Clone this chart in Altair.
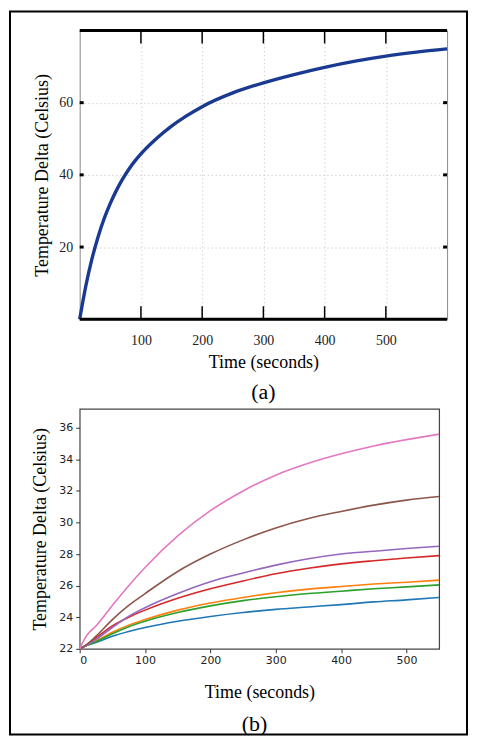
import altair as alt
import pandas as pd

# ---------------- Panel (a) data ----------------
time_a = [0, 10, 20, 30, 40, 50, 60, 70, 80, 90, 100, 125, 150, 175, 200, 250, 300, 350, 400, 450, 500, 550, 600]
delta_a = [0, 9.2, 16.7, 22.8, 27.9, 32.1, 35.7, 38.8, 41.5, 43.8, 45.8, 50.0, 53.5, 56.4, 58.9, 62.7,
           65.5, 67.8, 69.8, 71.5, 72.9, 74.0, 74.9]
xticks_a = [100, 200, 300, 400, 500]
yticks_a = [20, 40, 60]

# ---------------- Panel (b) data ----------------
time_b = [0, 10, 25, 50, 75, 100, 150, 200, 250, 300, 350, 400, 450, 500, 550]
series_names = ["s1", "s2", "s3", "s4", "s5", "s6", "s7"]
series_colors = ["#1f77b4", "#ff7f0e", "#2ca02c", "#d62728", "#9467bd", "#8c564b", "#e377c2"]
blue_b = [22, 22.2, 22.4, 22.8, 23.1, 23.35, 23.75, 24.05, 24.3, 24.5, 24.65, 24.8, 24.97, 25.1, 25.25]
orange_b = [22, 22.2, 22.5, 23.05, 23.5, 23.85, 24.45, 24.9, 25.25, 25.55, 25.78, 25.95, 26.1, 26.22, 26.35]
green_b = [22, 22.2, 22.45, 22.95, 23.4, 23.75, 24.3, 24.72, 25.05, 25.3, 25.5, 25.65, 25.8, 25.92, 26.05]
red_b = [22, 22.25, 22.7, 23.45, 24.0, 24.45, 25.2, 25.8, 26.3, 26.75, 27.1, 27.38, 27.58, 27.75, 27.9]
purple_b = [22, 22.2, 22.6, 23.35, 24.05, 24.6, 25.5, 26.25, 26.8, 27.3, 27.7, 28.0, 28.18, 28.35, 28.5]
brown_b = [22, 22.25, 22.8, 23.85, 24.75, 25.5, 26.9, 28.0, 28.9, 29.65, 30.25, 30.7, 31.1, 31.42, 31.65]
pink_b = [22, 22.8, 23.45, 24.75, 26.0, 27.15, 29.15, 30.75, 32.0, 33.0, 33.75, 34.35, 34.85, 35.25, 35.6]
xticks_b = [0, 100, 200, 300, 400, 500]
yticks_b = [22, 24, 26, 28, 30, 32, 34, 36]

SERIF = "Liberation Serif"
SANS = "DejaVu Sans"

# ---------------- Panel (a) ----------------
WA, HA = 369, 290
df_a = pd.DataFrame({"time": time_a, "delta": delta_a})
one = pd.DataFrame({"k": [0]})

xa = alt.X("time:Q", scale=alt.Scale(domain=[0, 600], nice=False, zero=False),
           axis=alt.Axis(values=xticks_a, title="Time (seconds)", titleFont=SERIF, titleFontSize=18,
                         titleFontWeight="normal", titleColor="black", titlePadding=6,
                         labelFont=SERIF, labelFontSize=14, labelColor="#222", labelPadding=14,
                         ticks=False, tickSize=0, domain=False, grid=True, gridColor="#d2d2d2",
                         gridDash=[1.5, 2.5], gridWidth=1))
ya = alt.Y("delta:Q", scale=alt.Scale(domain=[0, 80], nice=False, zero=False),
           axis=alt.Axis(values=yticks_a, title="Temperature Delta (Celsius)", titleFont=SERIF,
                         titleFontSize=18, titleFontWeight="normal", titleColor="black", titlePadding=7,
                         labelFont=SERIF, labelFontSize=14, labelColor="#222", labelPadding=7,
                         ticks=False, tickSize=0, domain=False, grid=True, gridColor="#d2d2d2",
                         gridDash=[1.5, 2.5], gridWidth=1))

line_a = alt.Chart(df_a).mark_line(color="#1a3a92", strokeWidth=3.4, interpolate="monotone").encode(x=xa, y=ya)
top_rule = alt.Chart(one).mark_rule(color="black", strokeWidth=3).encode(
    x=alt.value(0), x2=alt.value(WA), y=alt.value(0))
bot_rule = alt.Chart(one).mark_rule(color="black", strokeWidth=3).encode(
    x=alt.value(0), x2=alt.value(WA), y=alt.value(HA))
df_xt = pd.DataFrame({"time": xticks_a})
xt_bot = alt.Chart(df_xt).mark_rule(color="black", strokeWidth=1.5).encode(
    x=xa, y=alt.value(HA - 13), y2=alt.value(HA))
xt_top = alt.Chart(df_xt).mark_rule(color="black", strokeWidth=1.5).encode(
    x=xa, y=alt.value(0), y2=alt.value(13))
df_yt = pd.DataFrame({"delta": yticks_a})
yt_left = alt.Chart(df_yt).mark_rule(color="black", strokeWidth=3).encode(
    y=ya, x=alt.value(0), x2=alt.value(4))
yt_right = alt.Chart(df_yt).mark_rule(color="black", strokeWidth=3).encode(
    y=ya, x=alt.value(WA - 4), x2=alt.value(WA))

chart_a = alt.layer(line_a, xt_bot, xt_top, yt_left, yt_right, top_rule, bot_rule).properties(
    width=WA, height=HA,
    view=alt.ViewBackground(stroke="#888888", strokeWidth=1),
    title=alt.TitleParams("(a)", orient="bottom", font=SERIF, fontSize=22, fontWeight="normal",
                          color="black", offset=11),
)

# ---------------- Panel (b) ----------------
WB, HB = 361, 241
cols = [blue_b, orange_b, green_b, red_b, purple_b, brown_b, pink_b]
rows = []
for name, vals in zip(series_names, cols):
    for t, v in zip(time_b, vals):
        rows.append({"time": t, "delta": v, "series": name})
df_b = pd.DataFrame(rows)

xb = alt.X("time:Q", scale=alt.Scale(domain=[0, 550], nice=False, zero=False),
           axis=alt.Axis(values=xticks_b, title="Time (seconds)", titleFont=SERIF, titleFontSize=18,
                         titleFontWeight="normal", titleColor="black", titlePadding=17.5,
                         labelFont=SANS, labelFontSize=11, labelColor="#222", labelPadding=2,
                         tickSize=4, tickColor="#333", tickWidth=1, domain=False, grid=False))
yb = alt.Y("delta:Q", scale=alt.Scale(domain=[22, 37.2], nice=False, zero=False),
           axis=alt.Axis(values=yticks_b, title="Temperature Delta (Celsius)", titleFont=SERIF,
                         titleFontSize=18, titleFontWeight="normal", titleColor="black", titlePadding=9,
                         labelFont=SANS, labelFontSize=11, labelColor="#222", labelPadding=3,
                         tickSize=4, tickColor="#333", tickWidth=1, domain=False, grid=False))

lines_b = alt.Chart(df_b).mark_line(strokeWidth=1.6, interpolate="monotone").encode(
    x=xb, y=yb,
    color=alt.Color("series:N", scale=alt.Scale(domain=series_names, range=series_colors), legend=None),
)
# outer figure frame (decoration)
frame = alt.Chart(one).mark_rect(fillOpacity=0, stroke="black", strokeWidth=2).encode(
    x=alt.value(-70), x2=alt.value(389), y=alt.value(-399), y2=alt.value(327))

chart_b = alt.layer(lines_b, frame).properties(
    width=WB, height=HB,
    view=alt.ViewBackground(stroke="#444444", strokeWidth=1.2),
    title=alt.TitleParams("(b)", orient="bottom", font=SERIF, fontSize=22, fontWeight="normal",
                          color="black", offset=-21, frame="group", anchor="middle", dx=-5),
)

chart = alt.vconcat(chart_a, chart_b, spacing=90, bounds="flush").properties(
    padding=0, background="white")

chart.save("out.html", embed_options={"renderer": "svg", "actions": False})
